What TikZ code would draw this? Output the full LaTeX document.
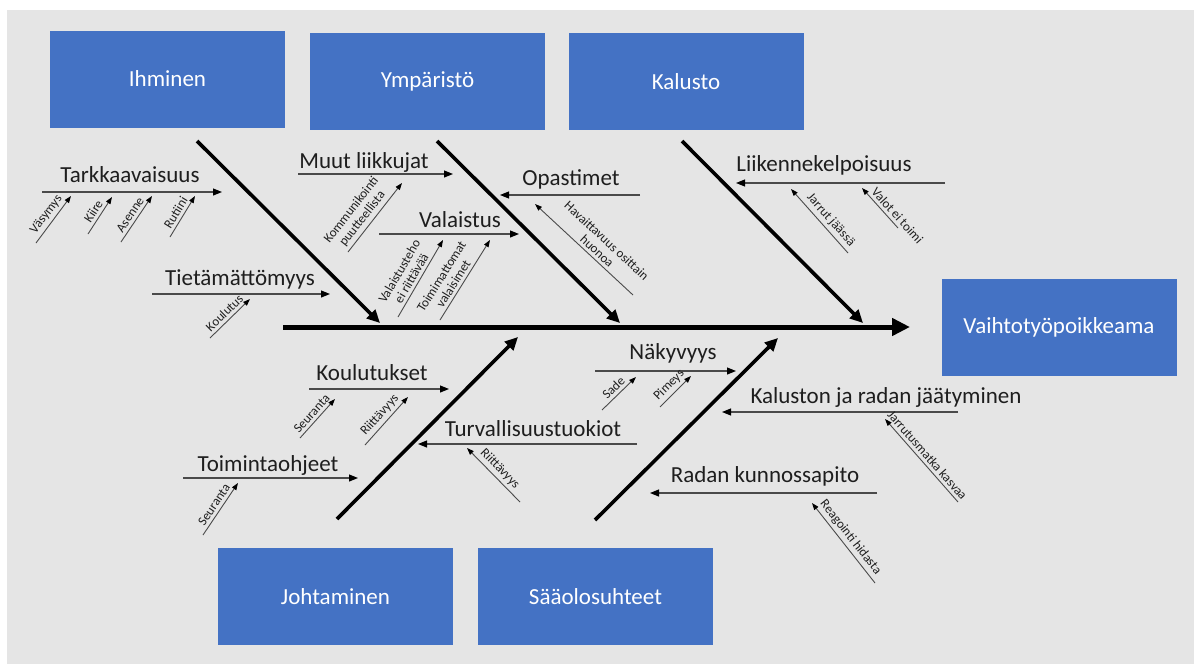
\documentclass[tikz,border=0pt]{standalone}
\usepackage{fontspec}
\setmainfont{Carlito}
\usetikzlibrary{arrows.meta}
\definecolor{bg}{HTML}{E5E5E5}
\definecolor{boxblue}{HTML}{4472C4}
\definecolor{txt}{HTML}{1E1E1E}
\definecolor{thin}{HTML}{4A4A4A}
\begin{document}
\begin{tikzpicture}[x=1pt,y=-1pt,
  catbox/.style={fill=boxblue, text=white, minimum width=235pt, minimum height=97pt, inner sep=0pt, font=\fontsize{23}{27}\selectfont},
  lbl/.style={font=\fontsize{23}{27}\selectfont, text=txt, inner sep=0pt},
  spine/.style={line width=5pt, -{Triangle[length=18pt,width=17pt]}},
  bone/.style={line width=3.6pt, -{Triangle[length=13pt,width=12pt]}},
  catarrow/.style={line width=1.1pt, draw=thin, -{Triangle[length=9pt,width=7pt,color=black]}},
  subarrow/.style={line width=0.9pt, draw=thin, -{Triangle[length=7pt,width=5pt,color=black]}},
  subrev/.style={line width=0.9pt, draw=thin, {Triangle[length=7pt,width=5pt,color=black]}-},
  sublbl/.style={font=\fontsize{13}{14}\selectfont, text=txt, sloped, above, inner sep=3pt, align=center}
]
\useasboundingbox (0,0) rectangle (1194,664);
\fill[white] (0,0) rectangle (1194,664);
\fill[bg] (7,10) rectangle (1194,664);

% category boxes
\node[catbox] (ihm) at (167.5,79) {Ihminen};
\node[catbox] (ymp) at (427.5,81.5) {Ympäristö};
\node[catbox] (kal) at (686,81.5) {Kalusto};
\node[catbox] (vai) at (1059,327.5) {Vaihtotyöpoikkeama};
\node[catbox] (joh) at (335.5,596.5) {Johtaminen};
\node[catbox] (saa) at (595.5,596.5) {Sääolosuhteet};

% spine and bones
\coordinate (s0) at (283,327);
\coordinate (s1) at (910,327);
\draw[spine] (s0) -- (s1);

\coordinate (b1a) at (197,141); \coordinate (b1b) at (380,323);
\coordinate (b2a) at (437,141); \coordinate (b2b) at (620,323);
\coordinate (b3a) at (682,141); \coordinate (b3b) at (863,323);
\coordinate (b4a) at (337,519); \coordinate (b4b) at (518,337);
\coordinate (b5a) at (595,520); \coordinate (b5b) at (778,338);
\draw[bone] (b1a) -- (b1b);
\draw[bone] (b2a) -- (b2b);
\draw[bone] (b3a) -- (b3b);
\draw[bone] (b4a) -- (b4b);
\draw[bone] (b5a) -- (b5b);

% cause labels and arrows
\node[lbl] (tark) at (130,175) {Tarkkaavaisuus};
\coordinate (tark0) at (42,192); \coordinate (tark1) at (222,192);
\draw[catarrow] (tark0) -- (tark1);

\node[lbl] (tiet) at (240,279) {Tietämättömyys};
\coordinate (tiet0) at (152,294); \coordinate (tiet1) at (330,294);
\draw[catarrow] (tiet0) -- (tiet1);

\node[lbl] (muut) at (364,162) {Muut liikkujat};
\coordinate (muut0) at (298,174); \coordinate (muut1) at (453,174);
\draw[catarrow] (muut0) -- (muut1);

\node[lbl] (opas) at (571,179) {Opastimet};
\coordinate (opas0) at (640,195); \coordinate (opas1) at (500,195);
\draw[catarrow] (opas0) -- (opas1);

\node[lbl] (vala) at (460,220) {Valaistus};
\coordinate (vala0) at (379,234); \coordinate (vala1) at (519,234);
\draw[catarrow] (vala0) -- (vala1);

\node[lbl] (liik) at (824,165) {Liikennekelpoisuus};
\coordinate (liik0) at (945,183); \coordinate (liik1) at (736,183);
\draw[catarrow] (liik0) -- (liik1);

\node[lbl] (koul) at (372,373) {Koulutukset};
\coordinate (koul0) at (309,389); \coordinate (koul1) at (449,389);
\draw[catarrow] (koul0) -- (koul1);

\node[lbl] (turv) at (533,429) {Turvallisuustuokiot};
\coordinate (turv0) at (637,444); \coordinate (turv1) at (418,444);
\draw[catarrow] (turv0) -- (turv1);

\node[lbl] (toim) at (268,465) {Toimintaohjeet};
\coordinate (toim0) at (183,478); \coordinate (toim1) at (358,478);
\draw[catarrow] (toim0) -- (toim1);

\node[lbl] (naky) at (673,353) {Näkyvyys};
\coordinate (naky0) at (595,371); \coordinate (naky1) at (736,371);
\draw[catarrow] (naky0) -- (naky1);

\node[lbl] (jaat) at (886,397) {Kaluston ja radan jäätyminen};
\coordinate (jaat0) at (958,412); \coordinate (jaat1) at (722,412);
\draw[catarrow] (jaat0) -- (jaat1);

\node[lbl] (rada) at (765,476) {Radan kunnossapito};
\coordinate (rada0) at (877,493); \coordinate (rada1) at (650,493);
\draw[catarrow] (rada0) -- (rada1);

% sub-causes (up-right)
\coordinate (vas0) at (36,243); \coordinate (vas1) at (71,196);
\draw[subarrow] (vas0) -- node[sublbl] (vasl) {Väsymys} (vas1);
\coordinate (kii0) at (88,234); \coordinate (kii1) at (112,197);
\draw[subarrow] (kii0) -- node[sublbl] (kiil) {Kiire} (kii1);
\coordinate (ase0) at (121,242); \coordinate (ase1) at (152,196);
\draw[subarrow] (ase0) -- node[sublbl] (asel) {Asenne} (ase1);
\coordinate (rut0) at (170,237); \coordinate (rut1) at (195,196);
\draw[subarrow] (rut0) -- node[sublbl] (rutl) {Rutiini} (rut1);
\coordinate (kou0) at (210,338); \coordinate (kou1) at (250,299);
\draw[subarrow] (kou0) -- node[sublbl] (koul) {Koulutus} (kou1);
\coordinate (kom0) at (348,252); \coordinate (kom1) at (402,183);
\draw[subarrow] (kom0) -- node[sublbl, pos=0.4] (koml) {Kommunikointi\\puutteellista} (kom1);
\coordinate (vte0) at (398,317); \coordinate (vte1) at (443,240);
\draw[subarrow] (vte0) -- node[sublbl, pos=0.45] (vtel) {Valaistusteho\\ei riittävää} (vte1);
\coordinate (tvs0) at (440,320); \coordinate (tvs1) at (490,240);
\draw[subarrow] (tvs0) -- node[sublbl, pos=0.4] (tvsl) {Toimimattomat\\valaisimet} (tvs1);
\coordinate (seu0) at (300,438); \coordinate (seu1) at (335,399);
\draw[subarrow] (seu0) -- node[sublbl] (seul) {Seuranta} (seu1);
\coordinate (rii0) at (365,445); \coordinate (rii1) at (408,397);
\draw[subarrow] (rii0) -- node[sublbl] (riil) {Riittävyys} (rii1);
\coordinate (seb0) at (203,535); \coordinate (seb1) at (238,483);
\draw[subarrow] (seb0) -- node[sublbl] (sebl) {Seuranta} (seb1);
\coordinate (sad0) at (602,410); \coordinate (sad1) at (636,377);
\draw[subarrow] (sad0) -- node[sublbl] (sadl) {Sade} (sad1);
\coordinate (pim0) at (660,407); \coordinate (pim1) at (691,376);
\draw[subarrow] (pim0) -- node[sublbl] (piml) {Pimeys} (pim1);

% sub-causes (up-left)
\coordinate (hav1) at (535,204); \coordinate (hav0) at (633,295);
\draw[subrev] (hav1) -- node[sublbl, pos=0.58] (havl) {Havaittavuus osittain\\huonoa} (hav0);
\coordinate (jar1) at (791,189); \coordinate (jar0) at (848,253);
\draw[subrev] (jar1) -- node[sublbl, pos=0.58] (jarl) {Jarrut jäässä} (jar0);
\coordinate (val1) at (862,188); \coordinate (val0) at (898,228);
\draw[subrev] (val1) -- node[sublbl, pos=0.82] (vall) {Valot ei toimi} (val0);
\coordinate (rib1) at (467,448); \coordinate (rib0) at (520,502);
\draw[subrev] (rib1) -- node[sublbl] (ribl) {Riittävyys} (rib0);
\coordinate (jmk1) at (885,419); \coordinate (jmk0) at (958,502);
\draw[subrev] (jmk1) -- node[sublbl] (jmkl) {Jarrutusmatka kasvaa} (jmk0);
\coordinate (rea1) at (812,503); \coordinate (rea0) at (875,583);
\draw[subrev] (rea1) -- node[sublbl] (real) {Reagointi hidasta} (rea0);
\end{tikzpicture}
\end{document}
